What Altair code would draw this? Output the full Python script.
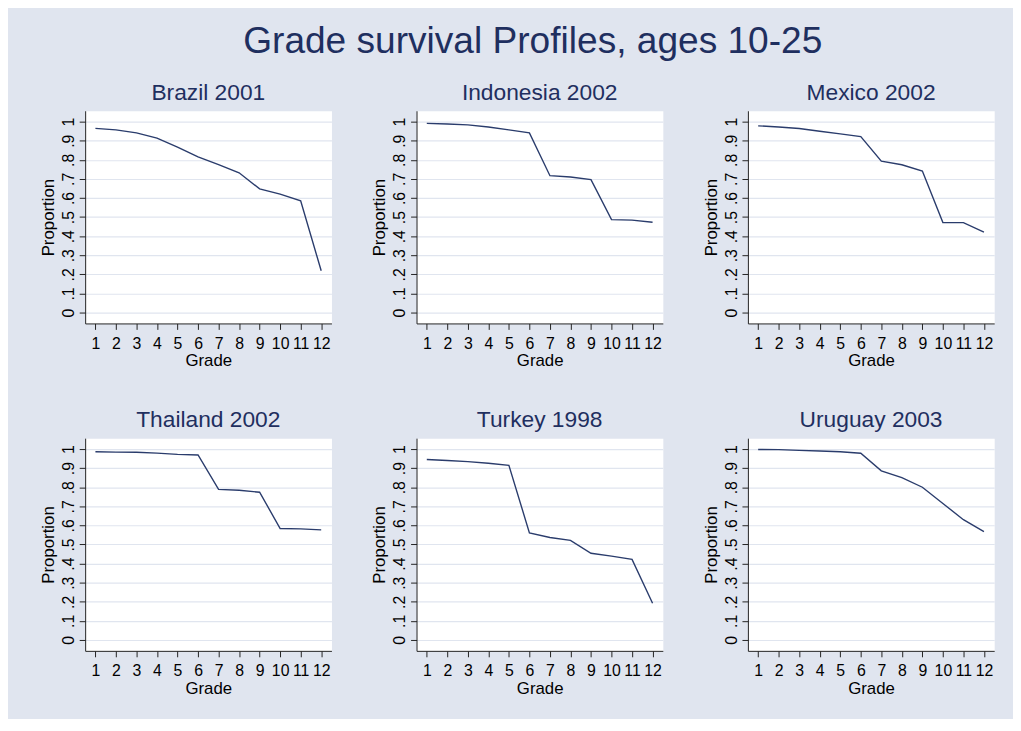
import altair as alt
import pandas as pd

grades = list(range(1, 13))
countries = ["Brazil 2001", "Indonesia 2002", "Mexico 2002",
             "Thailand 2002", "Turkey 1998", "Uruguay 2003"]
brazil = [0.965, 0.957, 0.941, 0.914, 0.867, 0.815, 0.775, 0.732, 0.648, 0.620, 0.585, 0.219]
indonesia = [0.991, 0.988, 0.983, 0.972, 0.957, 0.941, 0.717, 0.710, 0.696, 0.487, 0.484, 0.473]
mexico = [0.978, 0.972, 0.964, 0.950, 0.936, 0.922, 0.793, 0.774, 0.741, 0.472, 0.471, 0.421]
thailand = [0.986, 0.984, 0.983, 0.979, 0.972, 0.969, 0.789, 0.784, 0.774, 0.584, 0.582, 0.577]
turkey = [0.945, 0.940, 0.934, 0.926, 0.915, 0.561, 0.537, 0.522, 0.454, 0.439, 0.422, 0.192]
uruguay = [0.998, 0.997, 0.993, 0.990, 0.986, 0.978, 0.886, 0.850, 0.800, 0.715, 0.630, 0.568]
series = [brazil, indonesia, mexico, thailand, turkey, uruguay]
y_ticks = [0, 0.1, 0.2, 0.3, 0.4, 0.5, 0.6, 0.7, 0.8, 0.9, 1.0]

BG = "#e0e5ef"
LINE = "#2a3c6c"
TITLE = "#1f2f5f"
FONT = "Liberation Sans"


def panel(name, vals):
    df = pd.DataFrame({"Grade": grades, "Proportion": vals})
    return alt.Chart(df).mark_line(color=LINE, strokeWidth=1.4).encode(
        x=alt.X("Grade:Q",
                scale=alt.Scale(domain=[0.5, 12.5], nice=False, zero=False),
                axis=alt.Axis(values=grades, title="Grade", grid=False,
                              labelOverlap=False, labelFlush=False,
                              labelPadding=6, titlePadding=2)),
        y=alt.Y("Proportion:Q",
                scale=alt.Scale(domain=[-0.057, 1.057], nice=False, zero=False),
                axis=alt.Axis(values=y_ticks, title="Proportion", grid=True,
                              gridColor=BG, gridWidth=1.2,
                              labelAngle=270, labelAlign="center",
                              labelBaseline="bottom", labelPadding=3,
                              labelOverlap=False, labelFlush=False,
                              titlePadding=3,
                              labelExpr="datum.value == 0 ? '0' : (datum.value >= 1 ? '1' : replace(format(datum.value, '.1f'), '0.', '.'))")),
    ).properties(
        width=249, height=215,
        title=alt.TitleParams(name, fontSize=23, font=FONT, fontWeight="normal",
                              color=TITLE, anchor="middle", frame="group", offset=6),
    )


panels = [panel(n, v) for n, v in zip(countries, series)]
row1 = alt.hconcat(*panels[:3], spacing=38)
row2 = alt.hconcat(*panels[3:], spacing=38)

chart = alt.vconcat(row1, row2, spacing=39).properties(
    title=alt.TitleParams("Grade survival Profiles, ages 10-25", fontSize=37.5,
                          font=FONT, fontWeight="normal", color=TITLE,
                          anchor="middle", offset=21, dx=16),
    background=BG,
    padding={"left": 31, "top": 12, "right": 18, "bottom": 18},
).configure_view(
    fill="white", stroke="transparent"
).configure_axis(
    domainColor="#222222", tickColor="#222222", tickSize=6, domainWidth=1,
    tickWidth=1, labelFont=FONT, labelFontSize=16, labelColor="#000000",
    titleFont=FONT, titleFontSize=17, titleFontWeight="normal", titleColor="#000000",
)

chart.save("out.html", embed_options={"renderer": "svg", "actions": False})
